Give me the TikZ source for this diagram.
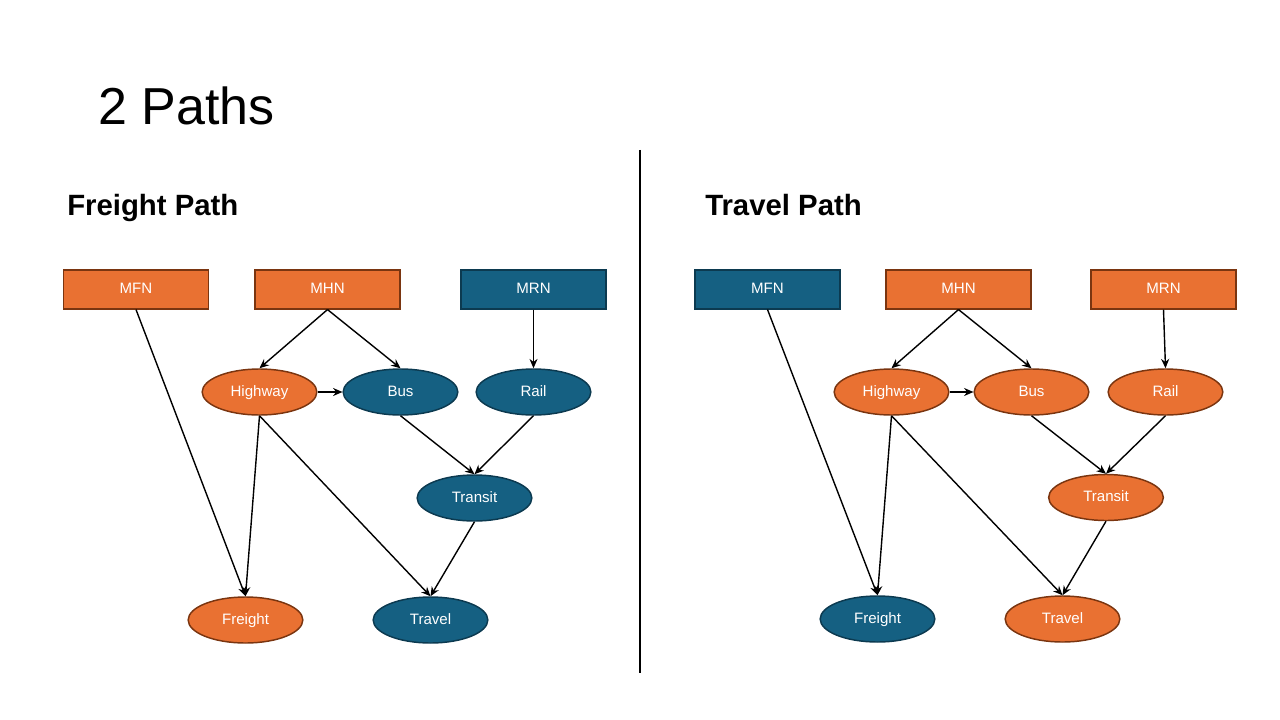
\documentclass[tikz,border=0pt]{standalone}
\usepackage{fontspec}
\setmainfont{Liberation Sans}
\usetikzlibrary{shapes.geometric,arrows.meta}
\definecolor{orng}{HTML}{E97132}
\definecolor{orngb}{HTML}{7A3510}
\definecolor{blu}{HTML}{156082}
\definecolor{blub}{HTML}{0C3A50}
\tikzset{
  lbl/.style={text=white,font=\fontsize{11.3}{13}\selectfont,text height=1.6ex,text depth=0.4ex},
  box/.style={rectangle,draw,line width=1.1pt,minimum width=108.5pt,minimum height=29pt,inner sep=0pt,lbl},
  oval/.style={ellipse,draw,line width=1.1pt,minimum width=86pt,minimum height=34.5pt,inner sep=0pt,lbl},
  org/.style={fill=orng,draw=orngb},
  bl/.style={fill=blu,draw=blub},
  arr/.style={line width=1.05pt,-{Stealth[length=7pt,width=6pt]}},
  head/.style={anchor=base west,font=\fontsize{22}{26}\selectfont\bfseries},
}
\begin{document}
\begin{tikzpicture}[x=0.75pt,y=-0.75pt]
\useasboundingbox[fill=white] (0,0) rectangle (1280,720);
\node[anchor=base west,font=\fontsize{39}{46}\selectfont,inner sep=0pt] (title) at (98,125) {2 Paths};
\draw[line width=1.1pt] (640,150) coordinate (d1) -- (640,673) coordinate (d2);
% left panel
\node[head,inner sep=0pt] (lh) at (67,215) {Freight Path};
\node[box,org] (lmfn) at (136,289.5) {MFN};
\node[box,org] (lmhn) at (327.5,289.5) {MHN};
\node[box,bl] (lmrn) at (533.5,289.5) {MRN};
\node[oval,org] (lhw) at (259.5,392) {Highway};
\node[oval,bl] (lbus) at (400.5,392) {Bus};
\node[oval,bl] (lrail) at (533.5,392) {Rail};
\node[oval,bl] (ltr) at (474.5,498) {Transit};
\node[oval,org] (lfr) at (245.5,620) {Freight};
\node[oval,bl] (ltv) at (430.5,620) {Travel};
\draw[arr] (lmfn.south) -- (lfr.north);
\draw[arr] (lmhn.south) -- (lhw.north);
\draw[arr] (lmhn.south) -- (lbus.north);
\draw[arr] (lmrn.south) -- (lrail.north);
\draw[arr] (lhw.east) -- (lbus.west);
\draw[arr] (lhw.south) -- (lfr.north);
\draw[arr] (lhw.south) -- (ltv.north);
\draw[arr] (lbus.south) -- (ltr.north);
\draw[arr] (lrail.south) -- (ltr.north);
\draw[arr] (ltr.south) -- (ltv.north);
% right panel
\node[head,inner sep=0pt] (rh) at (705,215) {Travel Path};
\node[box,bl] (rmfn) at (767.5,289.5) {MFN};
\node[box,org] (rmhn) at (958.5,289.5) {MHN};
\node[box,org] (rmrn) at (1163.5,289.5) {MRN};
\node[oval,org] (rhw) at (891.5,392) {Highway};
\node[oval,org] (rbus) at (1031.5,392) {Bus};
\node[oval,org] (rrail) at (1165.5,392) {Rail};
\node[oval,org] (rtr) at (1106,497.5) {Transit};
\node[oval,bl] (rfr) at (877.5,619) {Freight};
\node[oval,org] (rtv) at (1062.5,619) {Travel};
\draw[arr] (rmfn.south) -- (rfr.north);
\draw[arr] (rmhn.south) -- (rhw.north);
\draw[arr] (rmhn.south) -- (rbus.north);
\draw[arr] (rmrn.south) -- (rrail.north);
\draw[arr] (rhw.east) -- (rbus.west);
\draw[arr] (rhw.south) -- (rfr.north);
\draw[arr] (rhw.south) -- (rtv.north);
\draw[arr] (rbus.south) -- (rtr.north);
\draw[arr] (rrail.south) -- (rtr.north);
\draw[arr] (rtr.south) -- (rtv.north);
\end{tikzpicture}
\end{document}
